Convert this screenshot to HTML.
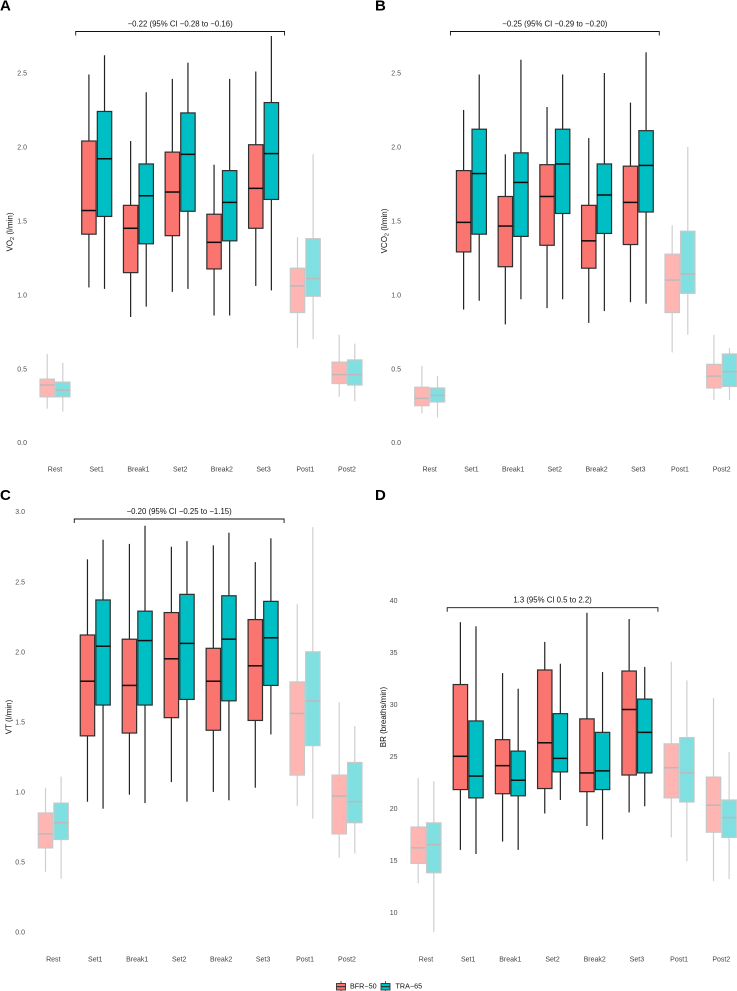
<!DOCTYPE html>
<html lang="en">
<head>
<meta charset="utf-8">
<title>Boxplots of VO2, VCO2, VT and BR by exercise phase</title>
<style>
html,body{margin:0;padding:0;background:#fff;}
#figure{display:block;width:737px;height:991px;font-family:"Liberation Sans",sans-serif;}
text{font-family:"Liberation Sans",sans-serif;}
</style>
</head>
<body>
<svg id="figure" xmlns="http://www.w3.org/2000/svg" width="737" height="991" viewBox="0 0 737 991">
  <rect width="737" height="991" fill="#fff"/>
  <g id="plots"></g>
  <text x="0" y="10.5" font-size="15" font-weight="bold" fill="#000">A</text>
  <text x="375" y="10.5" font-size="15" font-weight="bold" fill="#000">B</text>
  <text x="0" y="500" font-size="15" font-weight="bold" fill="#000">C</text>
  <text x="375" y="500" font-size="15" font-weight="bold" fill="#000">D</text>
  <text transform="translate(12.5,232) rotate(-90)" text-anchor="middle" font-size="8" fill="#111">VO<tspan font-size="5.5" dy="1.5">2</tspan><tspan dy="-1.5"> (l/min)</tspan></text>
  <text transform="translate(387,231) rotate(-90)" text-anchor="middle" font-size="8" fill="#111">VCO<tspan font-size="5.5" dy="1.5">2</tspan><tspan dy="-1.5"> (l/min)</tspan></text>
  <text transform="translate(11.5,717) rotate(-90)" text-anchor="middle" font-size="8" fill="#111">VT (l/min)</text>
  <text transform="translate(386,717) rotate(-90)" text-anchor="middle" font-size="8" fill="#111">BR (breaths/min)</text>
  <g>
    <g>
      <line x1="341" x2="341" y1="981" y2="992" stroke="#333" stroke-width="0.8"/>
      <rect x="336.5" y="983.5" width="9" height="6.5" fill="#F8766D" stroke="#333" stroke-width="0.9"/>
      <line x1="336.5" x2="345.5" y1="986.7" y2="986.7" stroke="#222" stroke-width="1"/>
      <text x="350" y="988.7" font-size="7.2" fill="#111">BFR−50</text>
    </g>
    <g>
      <line x1="385.5" x2="385.5" y1="981" y2="992" stroke="#333" stroke-width="0.8"/>
      <rect x="381" y="983.5" width="9" height="6.5" fill="#00BFC4" stroke="#333" stroke-width="0.9"/>
      <line x1="381" x2="390" y1="986.7" y2="986.7" stroke="#222" stroke-width="1"/>
      <text x="395.5" y="988.7" font-size="7.2" fill="#111">TRA−65</text>
    </g>
  </g>
</svg>
<script>
/* Shared categories. */
const categories = ['Rest','Set1','Break1','Set2','Break2','Set3','Post1','Post2'];
const fadedCategories = ['Rest','Post1','Post2'];

/* Each row: whisker low, Q1, median, Q3, whisker high, one row per category. */
const vo2Bfr = [
  [0.23,0.31,0.39,0.43,0.60],[1.05,1.41,1.57,2.04,2.49],[0.85,1.15,1.45,1.605,2.04],[1.02,1.40,1.695,1.965,2.46],
  [0.86,1.175,1.355,1.545,1.88],[1.06,1.45,1.72,2.015,2.51],[0.64,0.88,1.06,1.18,1.39],[0.31,0.40,0.46,0.545,0.73]];
const vo2Tra = [
  [0.21,0.31,0.355,0.41,0.54],[1.04,1.53,1.92,2.24,2.62],[0.92,1.345,1.67,1.885,2.37],[1.04,1.565,1.95,2.23,2.57],
  [0.86,1.365,1.625,1.84,2.46],[1.03,1.645,1.955,2.30,2.75],[0.70,0.99,1.11,1.38,1.95],[0.28,0.39,0.46,0.56,0.67]];
const vco2Bfr = [
  [0.20,0.25,0.30,0.375,0.52],[0.90,1.29,1.49,1.84,2.25],[0.80,1.19,1.465,1.665,1.95],[0.91,1.335,1.665,1.88,2.27],
  [0.81,1.18,1.365,1.605,2.06],[0.95,1.34,1.625,1.87,2.30],[0.61,0.88,1.10,1.275,1.47],[0.29,0.37,0.45,0.53,0.73]];
const vco2Tra = [
  [0.17,0.275,0.32,0.37,0.45],[0.96,1.41,1.82,2.12,2.49],[0.97,1.395,1.76,1.96,2.59],[0.97,1.55,1.885,2.12,2.49],
  [0.89,1.415,1.675,1.885,2.50],[0.94,1.56,1.875,2.11,2.64],[0.73,1.01,1.14,1.43,2.00],[0.29,0.38,0.48,0.60,0.64]];
const vtBfr = [
  [0.43,0.60,0.70,0.85,1.03],[0.93,1.40,1.79,2.12,2.66],[0.98,1.42,1.76,2.09,2.77],[1.07,1.53,1.95,2.28,2.75],
  [1.00,1.44,1.79,2.025,2.76],[1.03,1.51,1.90,2.23,2.64],[0.90,1.12,1.56,1.785,2.34],[0.53,0.70,0.97,1.12,1.64]];
const vtTra = [
  [0.38,0.66,0.78,0.92,1.11],[0.88,1.62,2.04,2.37,2.80],[0.92,1.62,2.08,2.29,2.90],[0.93,1.66,2.06,2.41,2.79],
  [0.94,1.65,2.09,2.40,2.85],[1.41,1.76,2.10,2.36,2.81],[0.81,1.33,1.65,2.00,2.89],[0.56,0.78,0.93,1.21,1.47]];
const brBfr = [
  [12.8,14.7,16.2,18.2,22.9],[16,21.8,25,31.9,37.9],[16.8,21.4,24.1,26.6,33],[19.5,21.9,26.3,33.3,36],
  [18.3,21.6,23.4,28.6,38.8],[19.6,23.2,29.5,33.2,38.2],[17.2,21,23.9,26.2,34.1],[13,17.7,20.3,23,30.6]];
const brTra = [
  [8.1,13.8,16.5,18.6,22.6],[15.6,21,23.1,28.4,37.5],[16,21.2,22.7,25.5,31.5],[20.8,23.5,24.8,29.1,33.9],
  [17,21.8,23.6,27.3,33.1],[20.2,23.4,27.3,30.5,33.6],[14.9,20.6,23.4,26.8,32.3],[13.2,17.2,19.1,20.8,25.4]];

/* Tick labels. */
const vo2Ticks = ['0.0','0.5','1.0','1.5','2.0','2.5'];
const vco2Ticks = ['0.0','0.5','1.0','1.5','2.0','2.5'];
const vtTicks = ['0.0','0.5','1.0','1.5','2.0','2.5','3.0'];
const brTicks = ['10','15','20','25','30','35','40'];

/* Printed effect estimates. */
const vo2Effect = '−0.22 (95% CI −0.28 to −0.16)';
const vco2Effect = '−0.25 (95% CI −0.29 to −0.20)';
const vtEffect = '−0.20 (95% CI −0.25 to −1.15)';
const brEffect = '1.3 (95% CI 0.5 to 2.2)';

const SVG_NS = 'http://www.w3.org/2000/svg';
const root = document.getElementById('plots');

function node(parent, tag, name, attrs, text) {
  const el = document.createElementNS(SVG_NS, tag);
  
  
  for (const k in attrs) el.setAttribute(k, attrs[k]);
  if (text !== undefined) el.textContent = text;
  parent.appendChild(el);
  return el;
}

/* Linear axis function: maps a data value through two calibration anchors. */
function linear(d0, r0, d1, r1) {
  return v => r0 + (v - d0) * (r1 - r0) / (d1 - d0);
}

function drawBox(g, stats, cx, halfW, y, faded, fill, fadedFill, label) {
  const whisker = faded ? '#cfcfcf' : '#222';
  const border = faded ? '#c8c8c8' : '#2e2e2e';
  const med = faded ? '#bababa' : '#0c0c0c';
  node(g, 'line', label + '-whisker-upper', {x1: cx, x2: cx, y1: y(stats[3]), y2: y(stats[4]), stroke: whisker, 'stroke-width': 1.2});
  node(g, 'line', label + '-whisker-lower', {x1: cx, x2: cx, y1: y(stats[1]), y2: y(stats[0]), stroke: whisker, 'stroke-width': 1.2});
  node(g, 'rect', label + '-box', {x: cx - halfW, y: y(stats[3]), width: halfW * 2, height: y(stats[1]) - y(stats[3]),
    fill: faded ? fadedFill : fill, stroke: border, 'stroke-width': 1.2});
  node(g, 'line', label + '-median', {x1: cx - halfW, x2: cx + halfW, y1: y(stats[2]), y2: y(stats[2]), stroke: med, 'stroke-width': 1.5});
}

function drawPanel(id, x, y, tickLabels, bfr, tra, effect, bracketY, tickX, catLabelY) {
  const g = node(root, 'g', 'panel-' + id, {});
  const yTicks = node(g, 'g', 'y-axis-' + id, {});
  tickLabels.forEach(t => {
    node(yTicks, 'text', 'y-tick-label', {x: tickX, y: y(parseFloat(t)) + 2.5, 'text-anchor': 'end', 'font-size': 7, fill: '#4d4d4d'}, t);
  });
  const xTicks = node(g, 'g', 'x-axis-' + id, {});
  categories.forEach((c, i) => {
    node(xTicks, 'text', 'x-tick-label', {x: x(i), y: catLabelY, 'text-anchor': 'middle', 'font-size': 7, fill: '#404040'}, c);
    const faded = fadedCategories.indexOf(c) >= 0;
    const cg = node(g, 'g', 'box-group-' + c.toLowerCase(), {});
    drawBox(cg, bfr[i], x(i) - 7.8, 7.2, y, faded, '#FA756F', '#FFB5B1', 'bfr-50-' + c.toLowerCase());
    drawBox(cg, tra[i], x(i) + 7.8, 7.2, y, faded, '#00BFC4', '#80DFE1', 'tra-65-' + c.toLowerCase());
  });
  const left = x(1) - 21, right = x(5) + 21;
  const br = node(g, 'g', 'effect-bracket-' + id, {});
  node(br, 'path', 'bracket-line', {d: 'M' + left + ' ' + (bracketY + 4) + 'V' + bracketY + 'H' + right + 'V' + (bracketY + 4),
    fill: 'none', stroke: '#111', 'stroke-width': 0.9});
  node(br, 'text', 'effect-label', {x: (left + right) / 2, y: bracketY - 5, 'text-anchor': 'middle', 'font-size': 7.8, fill: '#111'}, effect);
}

drawPanel('vo2', linear(0, 55, 7, 347), linear(0, 442.7, 2.5, 73), vo2Ticks, vo2Bfr, vo2Tra, vo2Effect, 31.5, 27, 471.5);
drawPanel('vco2', linear(0, 429.7, 7, 721.7), linear(0, 442.7, 2.5, 73), vco2Ticks, vco2Bfr, vco2Tra, vco2Effect, 31.5, 401, 471.5);
drawPanel('vt', linear(0, 53.3, 7, 347), linear(0, 932, 3, 511.7), vtTicks, vtBfr, vtTra, vtEffect, 519, 25, 961.5);
drawPanel('br', linear(0, 426, 7, 721.3), linear(10, 912.3, 40, 600.3), brTicks, brBfr, brTra, brEffect, 607.7, 397.5, 961.5);
</script>
</body>
</html>
